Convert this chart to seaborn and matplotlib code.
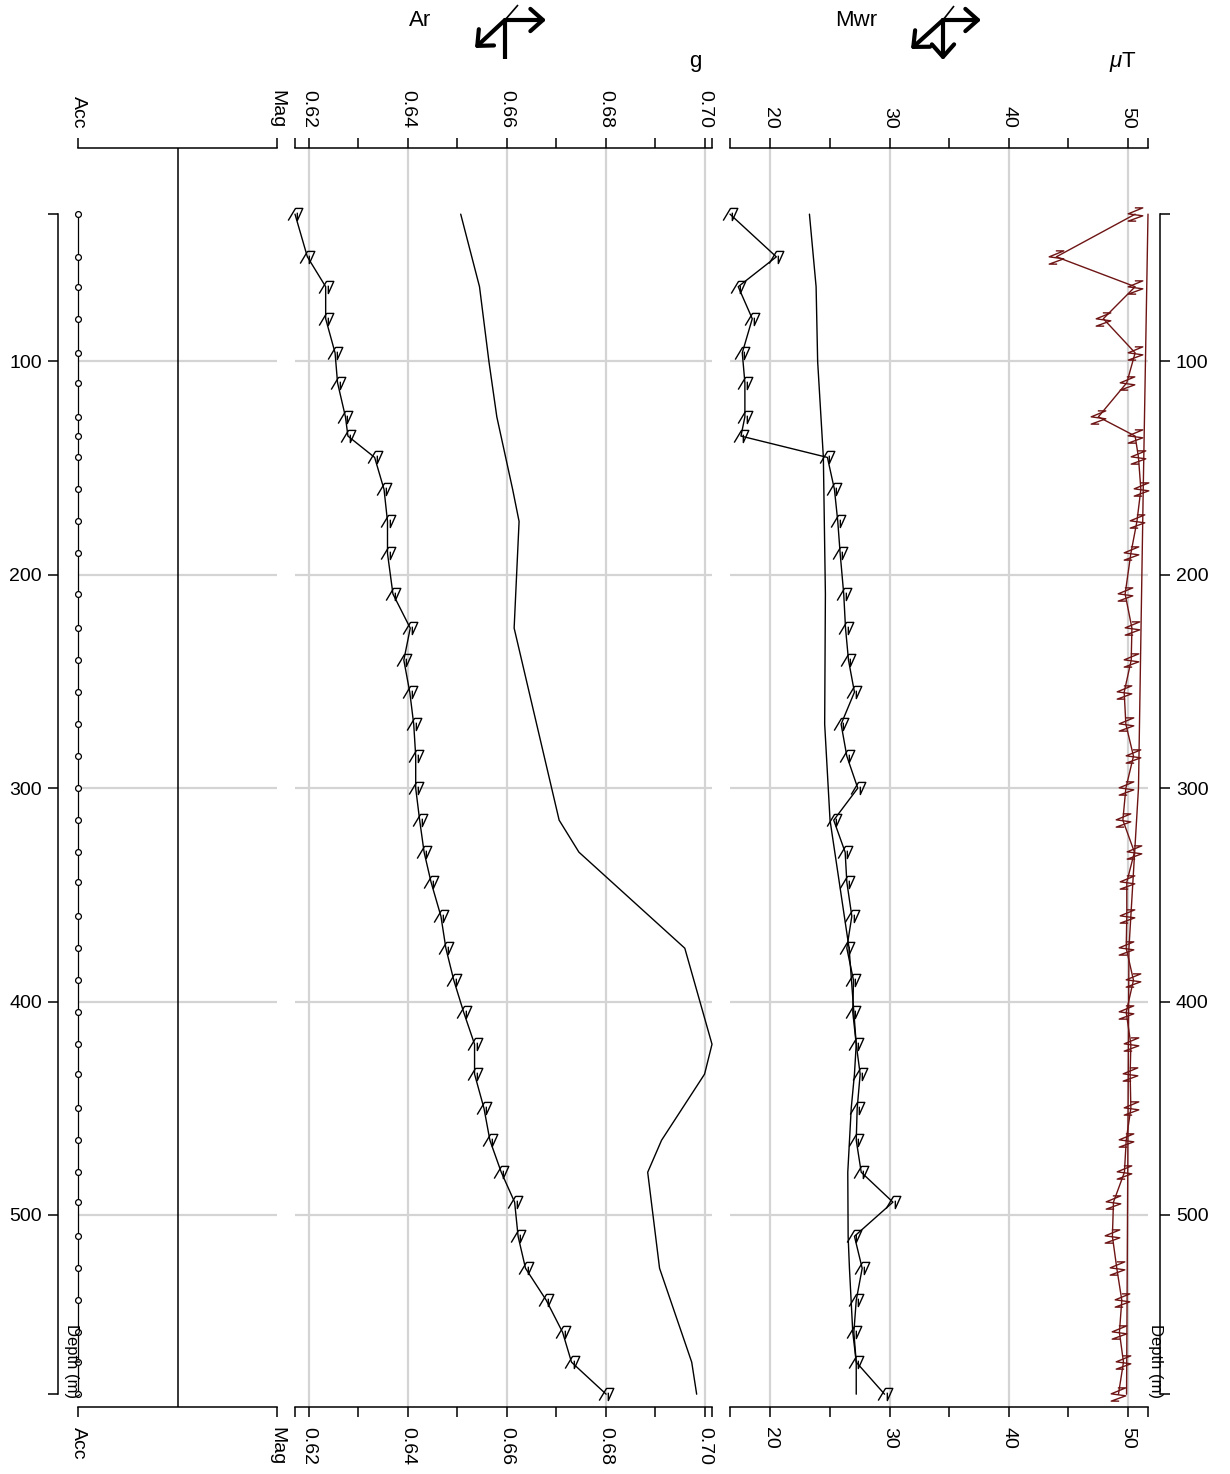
import matplotlib
matplotlib.use("Agg")
import matplotlib.pyplot as plt
from matplotlib.path import Path
from matplotlib.patches import FancyArrowPatch
from matplotlib.lines import Line2D
import seaborn as sns

# ---------------------------------------------------------------- data
depth = [31, 51, 65, 80, 96, 110, 126, 135, 145, 160,
         175, 190, 209, 225, 240, 255, 270, 285, 300, 315, 330, 344, 360,
         375, 390, 405, 420, 434, 450, 465, 480, 494, 510, 525, 540, 555, 569, 584]

acc_levels = ["Acc", "Mag"]
acc_state = ["Acc"] * 38

ar_measured = [0.6172, 0.6197, 0.6234, 0.6234, 0.6253, 0.6258, 0.6274, 0.6279, 0.6333, 0.6352,
               0.6359, 0.6359, 0.6370, 0.6405, 0.6392, 0.6404, 0.6412, 0.6416, 0.6416, 0.6424,
               0.6433, 0.6447, 0.6467,
               0.6477, 0.6493, 0.6513, 0.6535, 0.6535, 0.6554, 0.6566, 0.6589, 0.6616, 0.6623,
               0.6638, 0.6680, 0.6713, 0.6731, 0.6801]

ar_model_depth = [31, 65, 100, 126, 160, 175, 225, 315, 330, 375, 420, 434, 465, 480, 525, 569, 584]
ar_model = [0.6507, 0.6545, 0.6564, 0.6580, 0.6612, 0.6625, 0.6615, 0.6706, 0.6746, 0.6960,
            0.7015, 0.7000, 0.6913, 0.6885, 0.6909, 0.6974, 0.6984]

mwr_measured = [16.6, 20.49, 17.29, 18.47, 17.63, 17.85, 17.85, 17.52, 24.78, 25.37,
                25.65, 25.85, 26.15, 26.30, 26.55, 27.05, 25.93, 26.41, 27.33, 25.31,
                26.27, 26.41, 26.83,
                26.41, 26.97, 26.91, 27.20, 27.53, 27.28, 27.20, 27.62, 30.28, 27.05,
                27.70, 27.20, 27.00, 27.20, 29.58]

mwr_model_depth = [31, 65, 100, 145, 209, 270, 315, 375, 420, 434, 450, 480, 510, 525, 555, 569, 584]
mwr_model = [23.27, 23.83, 23.96, 24.44, 24.61, 24.55, 25.0, 26.6, 27.2, 27.05,
             26.78, 26.49, 26.52, 26.63, 26.91, 27.2, 27.2]

field_measured = [50.62, 44.0, 50.62, 47.95, 50.62, 49.92, 47.53, 50.62, 50.90, 51.1,
                  50.77, 50.26, 49.78, 50.35, 50.29, 49.70, 49.84, 50.48, 49.84, 49.59,
                  50.56, 49.92, 49.92,
                  49.87, 50.48, 49.87, 50.26, 50.20, 50.26, 49.87, 49.72, 48.80, 48.71,
                  49.08, 49.50, 49.30, 49.64, 49.22]

field_model_depth = [31, 160, 300, 375, 584]
field_model = [51.7, 51.3, 50.9, 50.1, 49.9]

ar_major = [0.62, 0.64, 0.66, 0.68, 0.70]
ar_minor = [0.63, 0.65, 0.67, 0.69]
mwr_major = [20, 30, 40, 50]
mwr_minor = [25, 35, 45]
depth_major = [100, 200, 300, 400, 500]

# ---------------------------------------------------------------- style
sns.set_theme(style="ticks")
plt.rcParams["font.family"] = ["Liberation Sans", "DejaVu Sans"]
plt.rcParams.update({
    "axes.edgecolor": "black", "xtick.color": "black", "ytick.color": "black",
    "text.color": "black", "axes.labelcolor": "black",
    "axes.linewidth": 1.1, "xtick.major.width": 1.1, "ytick.major.width": 1.1,
    "xtick.minor.width": 1.1, "ytick.minor.width": 1.1,
    "mathtext.fontset": "custom", "mathtext.it": "Liberation Sans:italic",
    "mathtext.rm": "Liberation Sans",
})

W, H = 1230, 1474
DARKRED = "#6e1414"
GRID = "#d4d4d4"
TICKFS = 14

fig = plt.figure(figsize=(W / 100, H / 100), dpi=100)


def rect(x0, x1, ytop=148, ybot=1407):
    return [x0 / W, 1 - ybot / H, (x1 - x0) / W, (ybot - ytop) / H]


ax1 = fig.add_axes(rect(78, 277))
ax2 = fig.add_axes(rect(295, 712))
ax3 = fig.add_axes(rect(730, 1148))

# custom glyph markers
M, L = Path.MOVETO, Path.LINETO
ar_glyph = Path([(-0.6, -0.5), (0.0, 0.5), (0.0, 0.5), (0.6, 0.5), (0.15, -0.5), (0.15, 0.15)],
                [M, L, M, L, L, L])
field_glyph = Path([(-0.05, 0.5), (0.55, 0.5), (-0.55, 0.05), (0.55, -0.1), (-0.55, -0.5),
                    (0.05, -0.5)],
                   [M, L, L, L, L, L])

line_kw = dict(sort=False, estimator=None, orient="y", clip_on=False)
GLYPH_SIZE = 10.5

# ---------------------------------------------------------------- track 1
acc_x = [acc_levels.index(s) for s in acc_state]
sns.lineplot(x=acc_x, y=depth, ax=ax1, color="black", lw=0.9, marker="o", markersize=4.2,
             markerfacecolor="white", markeredgecolor="black", markeredgewidth=0.9,
             **line_kw)
ax1.axvline(0.5, color="black", lw=1.1)
ax1.set_xlim(0, 1)

# ---------------------------------------------------------------- track 2
sns.lineplot(x=ar_model, y=ar_model_depth, ax=ax2, color="black", lw=1.0, **line_kw)
sns.lineplot(x=ar_measured, y=depth, ax=ax2, color="black", lw=1.0, marker=ar_glyph,
             markersize=GLYPH_SIZE, markerfacecolor="none", markeredgecolor="black",
             markeredgewidth=1.0, **line_kw)
ax2.set_xlim(min(ar_measured + ar_model), max(ar_measured + ar_model))

# ---------------------------------------------------------------- track 3
sns.lineplot(x=mwr_model, y=mwr_model_depth, ax=ax3, color="black", lw=1.0, **line_kw)
sns.lineplot(x=mwr_measured, y=depth, ax=ax3, color="black", lw=1.0, marker=ar_glyph,
             markersize=GLYPH_SIZE, markerfacecolor="none", markeredgecolor="black",
             markeredgewidth=1.0, **line_kw)
sns.lineplot(x=field_model, y=field_model_depth, ax=ax3, color=DARKRED, lw=1.0, **line_kw)
sns.lineplot(x=field_measured, y=depth, ax=ax3, color=DARKRED, lw=1.0, marker=field_glyph,
             markersize=GLYPH_SIZE, markerfacecolor="none", markeredgecolor=DARKRED,
             markeredgewidth=1.0, **line_kw)
all_mwr = mwr_measured + mwr_model + field_measured + field_model
ax3.set_xlim(min(all_mwr), max(all_mwr))

# ---------------------------------------------------------------- axes styling
dmin, dmax = min(depth), max(depth)
for ax in (ax1, ax2, ax3):
    ax.set_ylim(590, 0)
    ax.set_xlabel("")
    ax.set_ylabel("")
    ax.set_yticks(depth_major)
    ax.set_yticklabels([str(d) for d in depth_major])
    ax.set_yticks([dmin, dmax], minor=True)
    ax.set_axisbelow(True)
    ax.grid(axis="y", which="major", color=GRID, lw=1.6)
    for side in ("left", "right"):
        ax.spines[side].set_visible(False)
    ax.spines["top"].set_visible(True)
    ax.spines["bottom"].set_visible(True)
    ax.tick_params(axis="x", which="both", top=True, bottom=True, labeltop=True,
                   labelbottom=True, direction="out", length=7.2, pad=7,
                   labelsize=TICKFS, labelrotation=270)
    ax.tick_params(axis="y", which="both", left=False, right=False,
                   labelleft=False, labelright=False, direction="out",
                   length=7.2, pad=4.3, labelsize=TICKFS)

ax1.set_xticks([0, 1])
ax1.set_xticklabels(acc_levels)
ax1.grid(axis="x", visible=False)

ax2.set_xticks(ar_major)
ax2.set_xticklabels([f"{v:.2f}" for v in ar_major])
lo, hi = ax2.get_xlim()
ax2.set_xticks([lo] + ar_minor + [hi], minor=True)
ax2.grid(axis="x", which="major", color=GRID, lw=1.6)

ax3.set_xticks(mwr_major)
ax3.set_xticklabels([str(v) for v in mwr_major])
lo, hi = ax3.get_xlim()
ax3.set_xticks([lo] + mwr_minor + [hi], minor=True)
ax3.grid(axis="x", which="major", color=GRID, lw=1.6)

# depth axes on the outer sides
ax1.spines["left"].set_visible(True)
ax1.spines["left"].set_position(("outward", 14.4))
ax1.spines["left"].set_bounds(dmin, dmax)
ax1.tick_params(axis="y", which="both", left=True, labelleft=True)

ax3.spines["right"].set_visible(True)
ax3.spines["right"].set_position(("outward", 8.6))
ax3.spines["right"].set_bounds(dmin, dmax)
ax3.tick_params(axis="y", which="both", right=True, labelright=True)

# ---------------------------------------------------------------- texts
def fx(x):
    return x / W


def fy(y):
    return 1 - y / H


ax1.text(fx(71), fy(1361), "Depth (m)", transform=fig.transFigure, rotation=270,
         ha="center", va="center", fontsize=12)
ax3.text(fx(1155), fy(1361), "Depth (m)", transform=fig.transFigure, rotation=270,
         ha="center", va="center", fontsize=12)

fig.text(fx(420), fy(21), "Ar", ha="center", va="center", fontsize=16)
fig.text(fx(695), fy(62), "g", ha="center", va="center", fontsize=16)
fig.text(fx(856), fy(21), "Mwr", ha="center", va="center", fontsize=16)
fig.text(fx(1123), fy(62), r"$\mu$T", ha="center", va="center", fontsize=16)


# ---------------------------------------------------------------- orientation icons
def seg(p0, p1, lw, head=False):
    if head:
        art = FancyArrowPatch((fx(p0[0]), fy(p0[1])), (fx(p1[0]), fy(p1[1])),
                              transform=fig.transFigure,
                              arrowstyle="->,head_length=0.45,head_width=0.4",
                              mutation_scale=20, lw=lw, color="black",
                              capstyle="round", joinstyle="round",
                              shrinkA=0, shrinkB=0)
    else:
        art = Line2D([fx(p0[0]), fx(p1[0])], [fy(p0[1]), fy(p1[1])],
                     transform=fig.transFigure, lw=lw, color="black",
                     solid_capstyle="butt")
    fig.add_artist(art)


# first icon: up-right corner with diagonal
seg((518, 5), (505, 20), 1.2)
seg((505, 59), (505, 20), 3.0)
seg((505, 20), (546, 20), 3.0, head=True)
seg((505, 20), (475, 48), 3.0, head=True)

# second icon: right, down and diagonal
seg((954, 6), (943, 20), 1.2)
seg((943, 20), (981, 20), 3.0, head=True)
seg((943, 20), (943, 60), 3.0, head=True)
seg((943, 20), (911, 49), 3.0, head=True)

fig.savefig("out.png", dpi=100)
